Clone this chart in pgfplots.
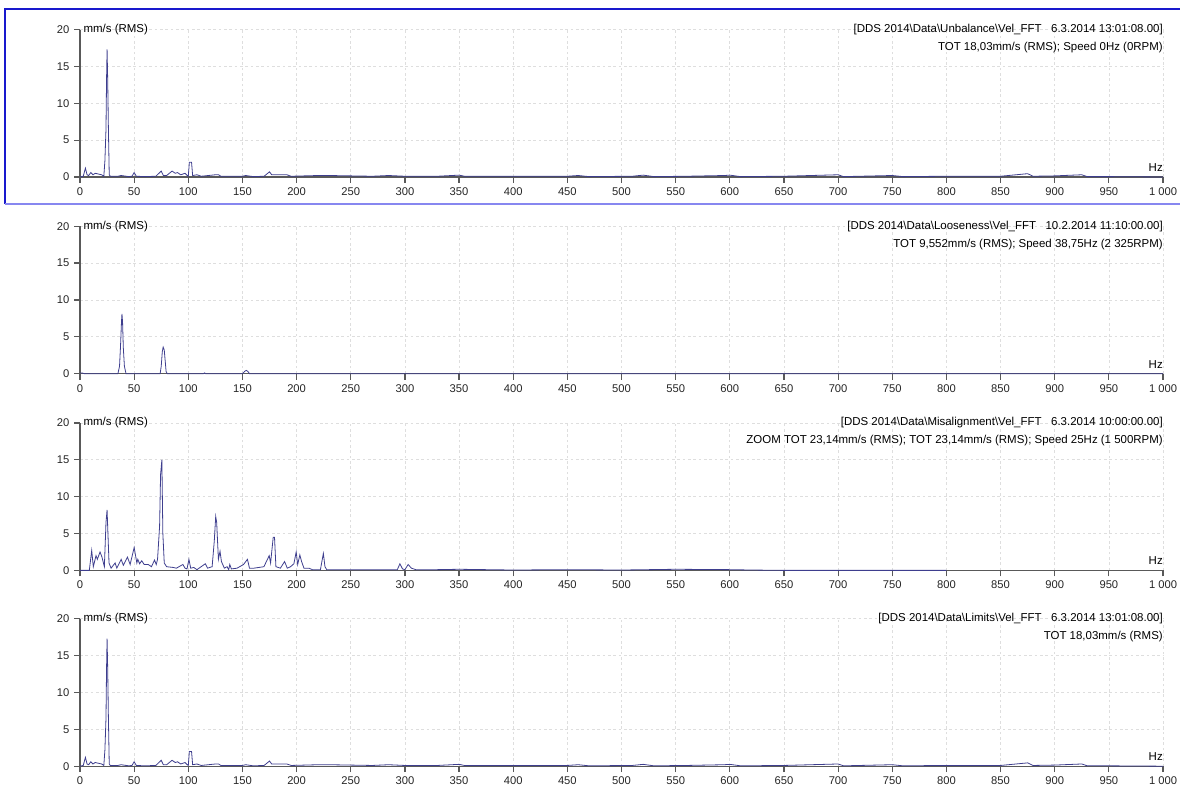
\documentclass[border=0pt]{standalone}
\usepackage{fontspec}
\setmainfont{Liberation Sans}
\usepackage{pgfplots}
\usepackage{pgfplotstable}
\pgfplotsset{compat=1.18}

\definecolor{fftline}{RGB}{62,62,142}
\definecolor{boxdark}{RGB}{25,25,205}
\definecolor{boxlight}{RGB}{135,135,240}

% Unbalance (also used for Limits)
\pgfplotstableread{
f v
0 0
3 0.1
5 1.2
6.5 0.3
8 0.2
10 0.6
12 0.3
14 0.5
17 0.4
20 0.3
22 0.1
23 2.2
24 6.5
24.5 13
25 17.3
25.6 13
26.2 6.8
27 0.3
28 0.1
35 0.1
38 0.2
45 0.05
48 0.1
50 0.6
52 0.1
60 0.05
70 0.1
75 0.8
77 0.2
80 0.2
85 0.8
88 0.5
90 0.6
93 0.3
97 0.5
99 0.2
100 0.1
101 2
103 2
104 0.2
108 0.3
112 0.1
125 0.3
128 0.3
130 0.1
150 0.1
153 0.2
160 0.05
170 0.1
175 0.7
177 0.3
182 0.3
188 0.3
191 0.3
195 0.1
220 0.2
230 0.2
250 0.15
270 0.1
285 0.2
300 0.1
330 0.1
350 0.25
355 0.1
400 0.1
450 0.1
460 0.2
470 0.05
510 0.1
520 0.25
530 0.05
560 0.1
595 0.2
600 0.25
610 0.05
650 0.1
700 0.3
705 0.05
750 0.2
760 0.05
800 0.1
850 0.1
875 0.45
880 0.1
900 0.15
925 0.3
930 0.05
950 0.05
1000 0
}\unbal

% Looseness
\pgfplotstableread{
f v
0 0.1
2 0.1
4 0
35 0
36.5 1
37.5 4
38.3 7
38.75 8.1
39.3 7
40 3.5
41 1
42.5 0
74 0
75 1
76 3
76.8 3.6
77.8 3.2
78.5 2
79.5 0.3
80.5 0
114 0
115 0.1
116 0
150 0
152 0.3
153.5 0.45
155 0.3
156.5 0
1000 0
}\loose

% Misalignment
\pgfplotstableread{
f v
0 0
8.6 0
10.8 2.7
12.3 0.5
14.8 2.0
16 1.5
18.5 2.5
20.3 1.8
22.5 0.5
24 6.5
25 8.2
26.8 1.0
28.7 0.3
32.4 1.0
34 0.3
38 1.5
40 0.7
43.8 1.8
46.3 0.8
50 3.1
52.5 1.0
53.4 1.5
55 0.9
57 1.3
59.3 0.8
63 0.8
66 0.5
68.8 1.4
70.4 0.8
71.6 1.5
73.5 6
74.4 13
75.6 15
76.5 5
77.8 1
80 0.5
86 0.4
89 0.3
95 0.8
97 0.3
98.8 0.2
100.6 1.5
102.2 0.3
105 0.4
108 0.1
115.7 0.9
117.8 0.3
122 0.5
124 4
125.3 7.3
126.2 6.5
127.8 1.5
129.3 2.6
130.6 1.2
133.3 0.3
135.8 0.5
137.3 0.1
138.3 0.8
139.8 0.2
145 0.3
151 0.8
154.6 1.5
156.5 0.3
160.5 0.3
169.8 0.5
174.7 2
176 1.0
178.4 4.5
179.6 4.5
180.9 0.5
185 0.3
188.9 1.2
191.4 0.3
194.4 0.5
197.5 0.9
199.6 2.5
201 0.8
203 2.1
204.6 1.2
206.8 0.3
211.4 0.3
214.5 0.1
222 0.1
224.7 2.3
226.2 0.5
227.8 0.1
240 0.1
260 0.1
280 0.1
293 0.1
295.4 0.9
297.8 0.2
300 0.1
303 0.8
306 0.3
310 0.1
330 0.1
350 0.15
400 0.05
450 0.1
500 0.05
550 0.15
600 0.1
620 0.05
650 0
800 0
}\misal

\tikzset{
  lbl/.style={font=\fontsize{8.6}{10}\selectfont, inner sep=0pt},
  fftplot/.style={color=fftline, line width=0.6pt, mark=none},
}

\pgfplotsset{
  fftax/.style={
    scale only axis, width=812.25pt, height=110.6pt,
    xmin=0, xmax=1000, ymin=0, ymax=20,
    axis x line=bottom, axis y line=left,
    axis line style={-, draw=black!65, line width=0.9pt},
    xtick={0,50,...,1000}, ytick={0,5,...,20},
    tick align=outside, major tick length=4.5pt,
    major tick style={draw=black!65, line width=0.9pt},
    grid=major, major grid style={dash pattern=on 2pt off 2pt, draw=black!13, line width=0.5pt},
    ticklabel style={font=\fontsize{8.4}{10}\selectfont, text=black!85},
    /pgf/number format/assume math mode=true,
    /pgf/number format/1000 sep={\ },
    clip=false,
  },
}

\begin{document}
\begin{tikzpicture}
\useasboundingbox (0,0) rectangle (885pt,590.25pt);

% frame around the selected (first) chart
\draw[boxdark, line width=0.9pt] (3.75pt,437.25pt) -- (3.75pt,583.5pt) -- (885pt,583.5pt);
\draw[boxlight, line width=1.4pt] (3.75pt,437.25pt) -- (885pt,437.25pt);

\begin{axis}[fftax, at={(60pt,457.5pt)}, anchor=south west]
\addplot[fftplot] table[x=f, y=v] {\unbal};
\node[lbl, anchor=west] at (axis cs:0,20) {\hspace{2.5pt}mm/s (RMS)};
\node[lbl, anchor=south east] at ([yshift=4pt]axis cs:1000,0) {Hz};
\node[lbl, anchor=east] at (axis cs:1000,20) {[DDS 2014\textbackslash Data\textbackslash Unbalance\textbackslash Vel\_FFT\ \ \ 6.3.2014 13:01:08.00]};
\node[lbl, anchor=east] at ([yshift=-13.5pt]axis cs:1000,20) {TOT 18,03mm/s (RMS); Speed 0Hz (0RPM)};
\end{axis}

\begin{axis}[fftax, at={(60pt,310pt)}, anchor=south west]
\addplot[fftplot] table[x=f, y=v] {\loose};
\node[lbl, anchor=west] at (axis cs:0,20) {\hspace{2.5pt}mm/s (RMS)};
\node[lbl, anchor=south east] at ([yshift=4pt]axis cs:1000,0) {Hz};
\node[lbl, anchor=east] at (axis cs:1000,20) {[DDS 2014\textbackslash Data\textbackslash Looseness\textbackslash Vel\_FFT\ \ \ 10.2.2014 11:10:00.00]};
\node[lbl, anchor=east] at ([yshift=-13.5pt]axis cs:1000,20) {TOT 9,552mm/s (RMS); Speed 38,75Hz (2 325RPM)};
\end{axis}

\begin{axis}[fftax, at={(60pt,162.45pt)}, anchor=south west]
\addplot[fftplot] table[x=f, y=v] {\misal};
\node[lbl, anchor=west] at (axis cs:0,20) {\hspace{2.5pt}mm/s (RMS)};
\node[lbl, anchor=south east] at ([yshift=4pt]axis cs:1000,0) {Hz};
\node[lbl, anchor=east] at (axis cs:1000,20) {[DDS 2014\textbackslash Data\textbackslash Misalignment\textbackslash Vel\_FFT\ \ \ 6.3.2014 10:00:00.00]};
\node[lbl, anchor=east] at ([yshift=-13.5pt]axis cs:1000,20) {ZOOM TOT 23,14mm/s (RMS); TOT 23,14mm/s (RMS); Speed 25Hz (1 500RPM)};
\end{axis}

\begin{axis}[fftax, at={(60pt,15.6pt)}, anchor=south west]
\addplot[fftplot] table[x=f, y=v] {\unbal};
\node[lbl, anchor=west] at (axis cs:0,20) {\hspace{2.5pt}mm/s (RMS)};
\node[lbl, anchor=south east] at ([yshift=4pt]axis cs:1000,0) {Hz};
\node[lbl, anchor=east] at (axis cs:1000,20) {[DDS 2014\textbackslash Data\textbackslash Limits\textbackslash Vel\_FFT\ \ \ 6.3.2014 13:01:08.00]};
\node[lbl, anchor=east] at ([yshift=-13.5pt]axis cs:1000,20) {TOT 18,03mm/s (RMS)};
\end{axis}
\end{tikzpicture}
\end{document}
